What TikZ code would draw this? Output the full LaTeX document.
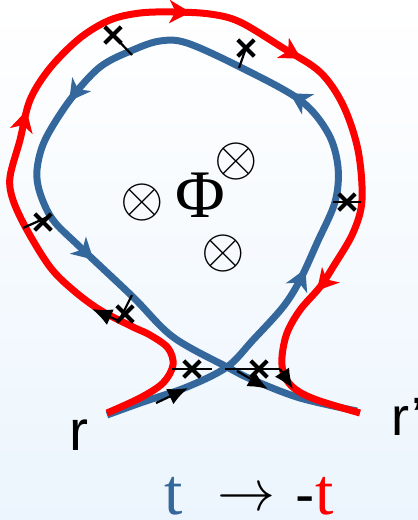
\RequirePackage{fix-cm}
\documentclass[tikz,border=0pt]{standalone}
\usepackage{fontspec}
\setmainfont{Liberation Serif}
\newfontfamily\arialf{Liberation Sans}
\usetikzlibrary{arrows.meta,decorations.markings,shapes.misc}
\definecolor{cblue}{RGB}{52,104,156}
\definecolor{cred}{RGB}{255,0,0}
\definecolor{bgbot}{RGB}{236,245,253}
\tikzset{
  curve/.style={line width=7pt, line join=round},
  bluec/.style={curve, draw=cblue},
  redc/.style={curve, draw=cred},
  xm/.style={draw=black, cross out, minimum size=12.5pt, inner sep=0pt, line width=4pt},
  ann/.style={draw=black, line width=2.2pt},
  annarrow/.style={ann, -{Latex[length=20pt,width=17pt]}},
  cmark/.style={postaction={decorate}},
  lbl/.style={inner sep=0pt},
}
\newcommand{\ctip}{\arrow{Stealth[length=21pt,width=23pt,inset=6pt]}}
\begin{document}
\begin{tikzpicture}[x=1pt,y=-1pt]
\fill[top color=white, bottom color=bgbot] (0,0) rectangle (418,520);
\useasboundingbox (0,0) rectangle (418,520);

% blue curve
\draw[bluec, cmark, decoration={markings,
  mark=at position 256pt with {\ctip},
  mark=at position 456pt with {\ctip},
  mark=at position 710pt with {\ctip},
  mark=at position 897pt with {\ctip}}]
  plot[smooth, tension=0.55] coordinates {
  (107,415) (143,402) (187,387) (227,367) (253,340) (283,307) (300,280)
  (317,243) (335,202) (338,167) (328,133) (300,100) (240,67) (187,43)
  (160,41) (133,50) (100,67) (70,100) (45,140) (37,170) (40,193) (53,220)
  (80,247) (133,297) (173,337) (227,367) (253,380) (300,398) (357,411)};

% red curve
\draw[redc, cmark, decoration={markings,
  mark=at position 416pt with {\ctip},
  mark=at position 624pt with {\ctip},
  mark=at position 746pt with {\ctip},
  mark=at position 1010pt with {\ctip}}]
  plot[smooth, tension=0.55] coordinates {
  (107,413) (140,398) (163,383) (173,365) (168,348) (150,335) (133,327)
  (100,310) (73,290) (50,267) (27,230) (13,200) (10,177) (20,140) (30,100)
  (50,68) (80,38) (110,20) (140,13) (173,12) (210,14) (240,22) (283,48)
  (320,72) (343,105) (358,150) (362,200) (353,233) (333,267) (320,287)
  (300,310) (287,333) (282,357) (284,375) (295,389) (317,400) (360,413)};

% cross marks
\node[xm] (x1) at (113,35) {};
\node[xm] (x2) at (246,48) {};
\node[xm] (x3) at (347,202) {};
\node[xm] (x4) at (43,222) {};
\node[xm] (x5) at (125,314) {};
\node[xm] (x6) at (192,369) {};
\node[xm] (x7) at (259,369) {};

\coordinate (e1) at (132,55);
\coordinate (e2) at (239,68);
\coordinate (e3a) at (333,202);
\coordinate (e3b) at (361,202);
\coordinate (e4a) at (23,228);
\coordinate (e4b) at (50,216);
\coordinate (e5a) at (132,295);
\coordinate (e5b) at (119,321);
\coordinate (e5c) at (92,309);
\coordinate (e6a) at (172,369);
\coordinate (e6b) at (212,369);
\coordinate (e7a) at (225,369);
\coordinate (e7b) at (280,369);
\coordinate (e7c) at (293,389);
\coordinate (aA1) at (156,403);
\coordinate (aA2) at (188,388);
\coordinate (aB1) at (237,371);
\coordinate (aB2) at (268,389);

\draw[ann] (x1.center) -- (e1);
\draw[ann] (x2.center) -- (e2);
\draw[ann] (e3a) -- (e3b);
\draw[ann] (e4a) -- (e4b);
\draw[ann] (e5a) -- (e5b);
\draw[annarrow] (e5b) -- (e5c);
\draw[ann] (e6a) -- (e6b);
\draw[ann] (e7a) -- (e7b);
\draw[annarrow] (e7b) -- (e7c);
\draw[annarrow] (aA1) -- (aA2);
\draw[annarrow] (aB1) -- (aB2);

% flux symbols
\node[lbl, font=\fontsize{56}{60}\selectfont] (o1) at (142,202) {$\otimes$};
\node[lbl, font=\fontsize{56}{60}\selectfont] (o2) at (236,161) {$\otimes$};
\node[lbl, font=\fontsize{56}{60}\selectfont] (o3) at (223,253) {$\otimes$};
\node[lbl, font=\fontsize{68}{70}\selectfont, anchor=base] (phi) at (200,217) {Φ};

% end labels
\node[lbl, font=\arialf\fontsize{57}{60}\selectfont, anchor=base] (r) at (79,450) {r};
\node[lbl, font=\arialf\fontsize{54}{58}\selectfont, anchor=base west] (rp) at (391,435) {r’};

% bottom formula
\node[lbl, font=\fontsize{66}{68}\selectfont, text=cblue, anchor=base] (t1) at (174,514) {t};
\node[lbl, font=\fontsize{58}{60}\selectfont] (arr) at (246,500) {$\rightarrow$};
\node[lbl, font=\arialf\fontsize{58}{60}\selectfont, anchor=base] (minus) at (305,514) {-};
\node[lbl, font=\fontsize{66}{68}\selectfont, text=cred, anchor=base] (t2) at (325,514) {t};
\end{tikzpicture}
\end{document}
